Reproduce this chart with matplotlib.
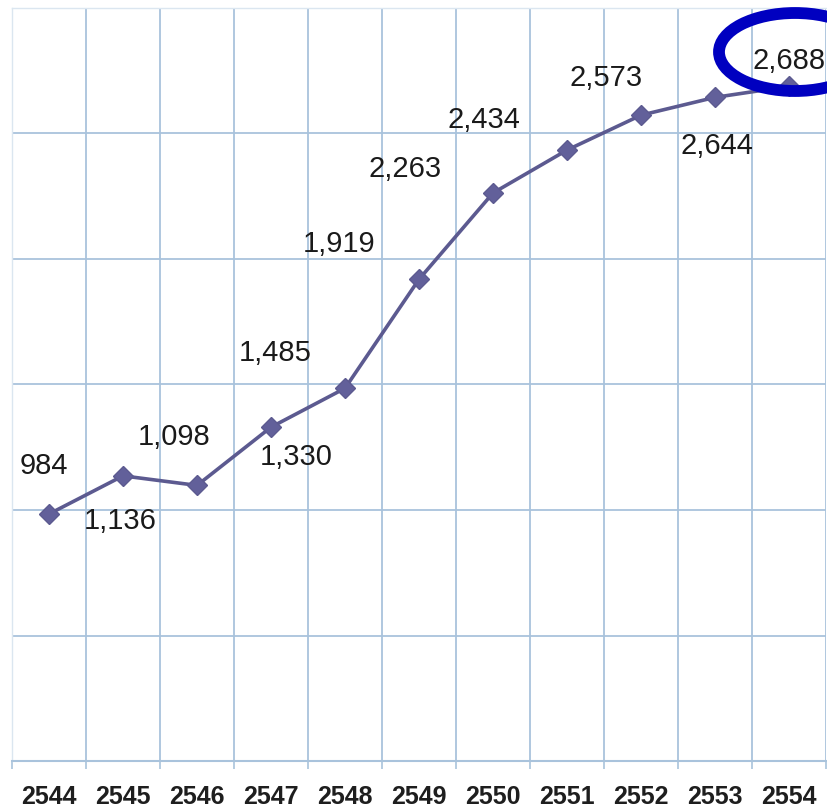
import matplotlib
matplotlib.use("Agg")
import matplotlib.pyplot as plt
from matplotlib.patches import Ellipse
import numpy as np

years = ["2544", "2545", "2546", "2547", "2548", "2549", "2550", "2551", "2552", "2553", "2554"]
values = [984, 1136, 1098, 1330, 1485, 1919, 2263, 2434, 2573, 2644, 2688]
labels = ["984", "1,136", "1,098", "1,330", "1,485", "1,919", "2,263", "2,434", "2,573", "2,644", "2,688"]

# label offsets in pixels (dx, dy) relative to each point (positions only)
offsets = [(-5, 48), (-3, -45), (-23, 48), (25, -30), (-70, 35), (-80, 35),
           (-88, 24), (-83, 30), (-35, 37), (2, -49), (0, 25)]

W, H = 827, 811
fig = plt.figure(figsize=(W / 100, H / 100), dpi=100)
fig.patch.set_facecolor("white")
ax = fig.add_axes([12 / W, (H - 761) / H, 814 / W, 753 / H])

x = np.arange(len(years))
ax.plot(x, values, color="#5c5a90", lw=2.6, marker="D", ms=10,
        markerfacecolor="#62609a", markeredgecolor="#5c5a90", zorder=3, clip_on=False)

ax.set_xlim(-0.5, len(years) - 0.5)
ax.set_ylim(0, 3000)

grid_c = "#a9c3dc"
ax.set_yticks(np.arange(0, 3001, 500))
ax.yaxis.set_tick_params(length=0, labelleft=False)
ax.set_xticks(x)
ax.set_xticklabels(years, fontsize=18, fontweight="bold", color="#1e1e1e",
                   family="Liberation Sans")
ax.set_xticks(np.arange(-0.5, len(years), 1), minor=True)
ax.tick_params(axis="x", which="major", length=0, pad=17)
ax.tick_params(axis="x", which="minor", length=6, color=grid_c, width=1.2)
ax.grid(True, which="minor", axis="x", color=grid_c, lw=1.3)
ax.grid(True, which="major", axis="y", color=grid_c, lw=1.3)
ax.set_axisbelow(True)
for s in ["left", "top", "right"]:
    ax.spines[s].set_color("#dbe6f0")
    ax.spines[s].set_linewidth(1.0)
ax.spines["right"].set_visible(False)
ax.spines["bottom"].set_color(grid_c)
ax.spines["bottom"].set_linewidth(1.5)

for xi, v, lab, (dx, dy) in zip(x, values, labels, offsets):
    ax.annotate(lab, (xi, v), xytext=(dx * 0.72, dy * 0.72), textcoords="offset points",
                ha="center", va="center", fontsize=21, color="#1a1a1a",
                family="Liberation Sans", annotation_clip=False, zorder=4)

# highlight ellipse (figure pixel coords)
ell = Ellipse((795 / W, (H - 52) / H), 152 / W, 78 / H, transform=fig.transFigure,
              fill=False, edgecolor="#0000c0", lw=8.5, zorder=10)
fig.patches.append(ell)

fig.savefig("out.png", dpi=100, facecolor="white")
